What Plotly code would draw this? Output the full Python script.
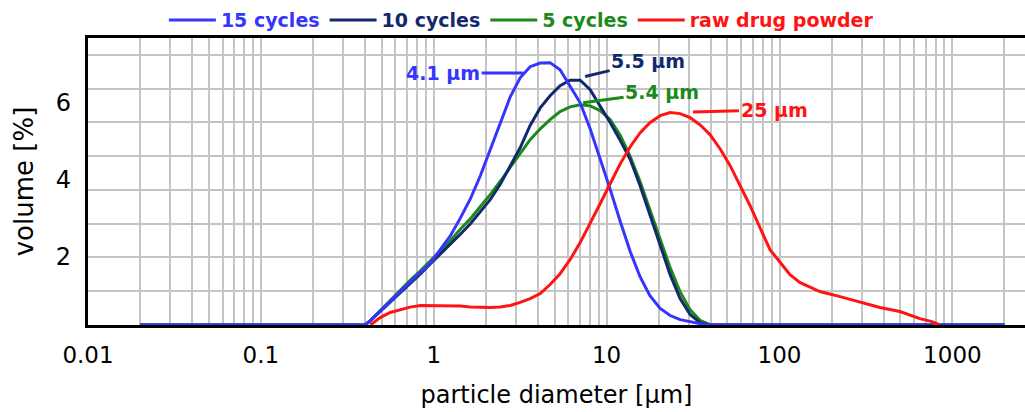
import math
import plotly.graph_objects as go

# particle diameters [µm] shared by the milled samples
sizes_cycles = [0.02, 0.40, 0.43, 0.49, 0.56, 0.64, 0.73, 0.84, 0.96, 1.09, 1.25, 1.42,
                1.63, 1.86, 2.12, 2.42, 2.77, 3.16, 3.61, 4.13, 4.71, 5.38, 6.15, 7.03,
                8.03, 9.17, 10.5, 12.0, 13.7, 15.6, 17.8, 20.4, 23.3, 26.6, 30.4, 34.7,
                39.6, 45.3, 2000]

vol_15 = [0, 0, 0.13, 0.40, 0.70, 0.99, 1.26, 1.55, 1.85, 2.23, 2.65, 3.15, 3.74, 4.42,
          5.19, 6.02, 6.76, 7.32, 7.65, 7.76, 7.77, 7.56, 7.09, 6.58, 5.81, 4.95, 4.01,
          3.06, 2.17, 1.43, 0.87, 0.49, 0.28, 0.16, 0.09, 0.04, 0.01, 0, 0]

vol_10 = [0, 0, 0.13, 0.40, 0.67, 0.96, 1.23, 1.52, 1.82, 2.09, 2.38, 2.68, 3.00, 3.36,
          3.71, 4.16, 4.69, 5.25, 5.91, 6.43, 6.79, 7.09, 7.25, 7.25, 6.97, 6.49, 5.99,
          5.46, 4.90, 4.13, 3.24, 2.35, 1.49, 0.78, 0.31, 0.07, 0, 0, 0]

vol_5 = [0, 0, 0.13, 0.43, 0.72, 1.02, 1.32, 1.61, 1.91, 2.20, 2.50, 2.83, 3.15, 3.51,
         3.86, 4.25, 4.66, 5.07, 5.49, 5.81, 6.08, 6.32, 6.46, 6.52, 6.49, 6.35, 6.08,
         5.61, 4.99, 4.25, 3.42, 2.56, 1.70, 0.98, 0.45, 0.14, 0.01, 0, 0]

sizes_raw = [0.43, 0.49, 0.56, 0.64, 0.73, 0.84, 0.96, 1.09, 1.25, 1.42, 1.63, 1.86, 2.12,
             2.42, 2.77, 3.16, 3.61, 4.13, 4.71, 5.38, 6.15, 7.03, 8.03, 9.17, 10.5, 12.0,
             13.7, 15.6, 17.8, 20.4, 23.3, 26.6, 30.4, 34.7, 39.6, 45.3, 51.8, 59.1, 67.5,
             77.1, 88.1, 101, 115, 131, 171, 224, 292, 381, 497, 649, 762, 848]
vol_raw = [0, 0.22, 0.37, 0.46, 0.53, 0.58, 0.58, 0.58, 0.58, 0.56, 0.53, 0.52, 0.52, 0.53,
           0.58, 0.67, 0.78, 0.93, 1.20, 1.52, 1.94, 2.44, 3.00, 3.59, 4.19, 4.78, 5.28,
           5.69, 5.99, 6.20, 6.29, 6.26, 6.14, 5.93, 5.64, 5.22, 4.72, 4.13, 3.54, 2.88,
           2.23, 1.85, 1.49, 1.26, 0.99, 0.84, 0.67, 0.52, 0.40, 0.19, 0.10, 0]

series_names = ["15 cycles", "10 cycles", "5 cycles", "raw drug powder"]
series_colors = ["#3535ff", "#14286e", "#1b8a1b", "#ff1414"]

x_tick_vals = [0.01, 0.1, 1, 10, 100, 1000]
x_tick_text = ["0.01", "0.1", "1", "10", "100", "1000"]
y_tick_vals = [2, 4, 6]
y_tick_text = ["2", "4", "6"]

# peak annotations
peak_labels = ["4.1 µm", "5.5 µm", "5.4 µm", "25 µm"]
peak_x = [3.29, 7.51, 7.31, 31.6]
peak_y = [7.46, 7.36, 6.58, 6.31]
peak_ax = [-80, 63, 79, 81]
peak_ay = [0, -15, -11, -2]

FONT = "DejaVu Sans, Verdana, sans-serif"
GRID = "#c4c4c4"

fig = go.Figure()

order = [2, 1, 0, 3]  # drawing order: 5, 10, 15 cycles, raw on top
xs = [sizes_cycles, sizes_cycles, sizes_cycles, sizes_raw]
ys = [vol_15, vol_10, vol_5, vol_raw]
for i in order:
    fig.add_trace(go.Scatter(
        x=xs[i], y=ys[i], mode="lines",
        line=dict(color=series_colors[i], width=3),
        name=f"<b><span style='color:{series_colors[i]}'>{series_names[i]}</span></b>",
        legendrank=i + 1,
    ))

# empty trace to carry the labelled y axis
fig.add_trace(go.Scatter(x=[], y=[], yaxis="y2", showlegend=False, hoverinfo="skip"))

minor_vals = [m * 10 ** e for e in range(-2, 4) for m in range(2, 10)]

for i in range(4):
    fig.add_annotation(
        x=math.log10(peak_x[i]), y=peak_y[i], xref="x", yref="y",
        text=f"<b>{peak_labels[i]}</b>", showarrow=True, arrowhead=0, arrowwidth=3,
        arrowcolor=series_colors[i], ax=peak_ax[i], ay=peak_ay[i],
        font=dict(family=FONT, size=19, color=series_colors[i]),
    )

fig.update_layout(
    width=1025, height=412,
    margin=dict(l=88, r=0, t=38, b=87),
    paper_bgcolor="white", plot_bgcolor="white",
    showlegend=True,
    legend=dict(orientation="h", x=0.081, xanchor="left", y=1.062, yanchor="middle",
                font=dict(family=FONT, size=19), bgcolor="rgba(0,0,0,0)",
                itemwidth=47, traceorder="normal"),
    xaxis=dict(
        type="log", range=[-2, 3.42], automargin=False,
        tickmode="array", tickvals=x_tick_vals, ticktext=x_tick_text,
        ticks="", ticklabelstandoff=8,
        tickfont=dict(family=FONT, size=23, color="black"),
        showgrid=True, gridcolor=GRID, gridwidth=2,
        minor=dict(tickmode="array", tickvals=minor_vals, showgrid=True,
                   gridcolor=GRID, gridwidth=2, ticks=""),
        showline=True, linecolor="black", linewidth=2.5, mirror=True,
        zeroline=False,
        title=dict(text="particle diameter [µm]", standoff=19,
                   font=dict(family=FONT, size=24, color="black")),
    ),
    yaxis=dict(
        range=[0, 8.5], automargin=False, dtick=1, showticklabels=False,
        ticks="", showgrid=True, gridcolor=GRID, gridwidth=2, zeroline=False,
        showline=True, linecolor="black", linewidth=2.5,
    ),
    yaxis2=dict(
        overlaying="y", side="left", range=[0.213, 7.68], automargin=False,
        tickmode="array", tickvals=y_tick_vals, ticktext=y_tick_text,
        ticks="", ticklabelstandoff=16, showgrid=False, zeroline=False, showline=False,
        tickfont=dict(family=FONT, size=24, color="black"),
        title=dict(text="volume [%]", standoff=14,
                   font=dict(family=FONT, size=26, color="black")),
    ),
)

fig.write_html("out.html")
